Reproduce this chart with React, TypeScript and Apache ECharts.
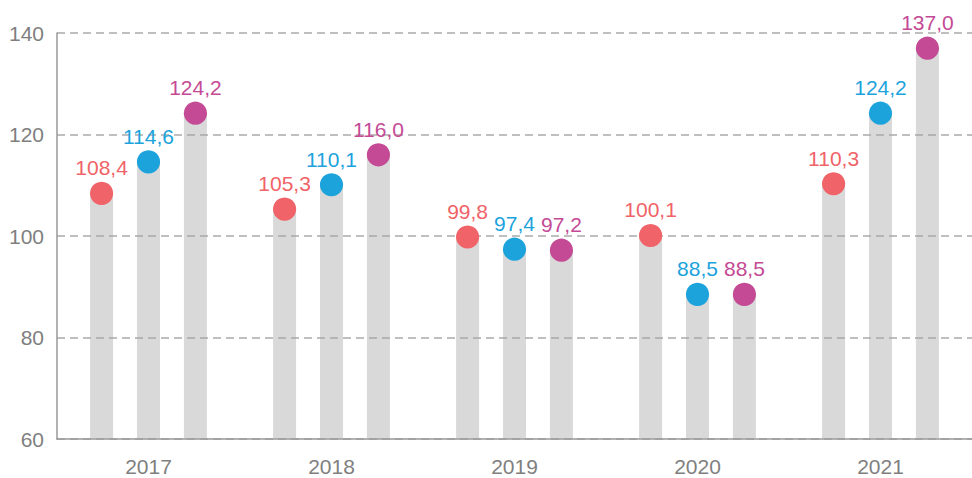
import React, { useEffect, useRef } from "react";
import * as echarts from "echarts";

const categories = ["2017", "2018", "2019", "2020", "2021"];
const seriesRed = [108.4, 105.3, 99.8, 100.1, 110.3];
const seriesBlue = [114.6, 110.1, 97.4, 88.5, 124.2];
const seriesMagenta = [124.2, 116.0, 97.2, 88.5, 137.0];
const colors = ["#f06368", "#1ca3dc", "#c44a95"];
const FONT = "Liberation Sans, Arial, sans-serif";

export default function App() {
  const ref = useRef<HTMLDivElement>(null);
  useEffect(() => {
    document.body.style.margin = "0";
    if (!ref.current) return;
    const chart = echarts.init(ref.current, null, { renderer: "svg" });
    const all = [seriesRed, seriesBlue, seriesMagenta];
    const fmt = (p: any) => Number(p.value).toFixed(1).replace(".", ",");
    const series: any[] = [];
    all.forEach((d, i) => {
      series.push({
        type: "bar",
        data: d,
        barWidth: 23,
        barGap: "104%",
        itemStyle: { color: "rgba(165,165,168,0.42)" },
        label: {
          show: true,
          position: "top",
          distance: 15,
          formatter: fmt,
          color: colors[i],
          fontSize: 21,
          fontFamily: FONT,
        },
        z: 3,
      });
    });
    all.forEach((d, i) => {
      series.push({
        type: "pictorialBar",
        data: d,
        barWidth: 23,
        barGap: "104%",
        symbol: "circle",
        symbolSize: [23, 23],
        symbolPosition: "end",
        symbolOffset: [0, "-50%"],
        itemStyle: { color: colors[i] },
        z: 5,
      });
    });
    chart.setOption({
      animation: false,
      grid: { left: 57, right: 0, top: 33, bottom: 39 },
      xAxis: {
        type: "category",
        data: categories,
        axisLine: { lineStyle: { color: "#999999", width: 1.5 } },
        axisTick: { show: false },
        axisLabel: {
          color: "#7f7f7f",
          fontSize: 21,
          margin: 17,
          fontFamily: FONT,
        },
      },
      yAxis: {
        type: "value",
        min: 60,
        max: 140,
        interval: 20,
        axisLine: { show: true, lineStyle: { color: "#999999", width: 1.5 } },
        axisTick: { show: false },
        axisLabel: {
          color: "#7f7f7f",
          fontSize: 21,
          margin: 13,
          fontFamily: FONT,
        },
        splitLine: {
          show: true,
          lineStyle: { color: "#bfbfbf", width: 2, type: [8, 5] },
        },
      },
      series,
    });
    return () => chart.dispose();
  }, []);
  return <div ref={ref} style={{ width: 972, height: 478 }} />;
}
